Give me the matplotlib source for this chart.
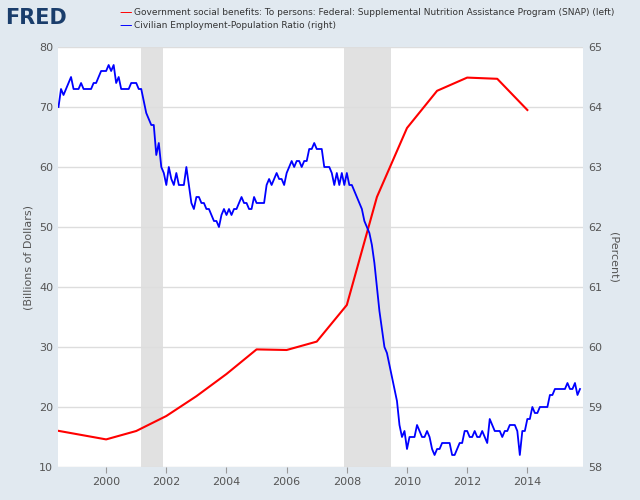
import matplotlib.pyplot as plt
import numpy as np

snap_years = list(range(1998, 2015))
snap_vals = [16.4, 15.5, 14.6, 16.0, 18.5, 21.8, 25.5, 29.6, 29.5, 30.9, 37.0, 55.0, 66.5, 72.7, 74.9, 74.7, 69.5]

emp_start = 1998 + 5/12  # June 1998
emp_vals = [64.0, 64.3, 64.2, 64.3, 64.4, 64.5, 64.3,
	64.3, 64.3, 64.4, 64.3, 64.3, 64.3, 64.3, 64.4, 64.4, 64.5, 64.6, 64.6,
	64.6, 64.7, 64.6, 64.7, 64.4, 64.5, 64.3, 64.3, 64.3, 64.3, 64.4, 64.4,
	64.4, 64.3, 64.3, 64.1, 63.9, 63.8, 63.7, 63.7, 63.2, 63.4, 63.0, 62.9,
	62.7, 63.0, 62.8, 62.7, 62.9, 62.7, 62.7, 62.7, 63.0, 62.7, 62.4, 62.3,
	62.5, 62.5, 62.4, 62.4, 62.3, 62.3, 62.2, 62.1, 62.1, 62.0, 62.2, 62.3,
	62.2, 62.3, 62.2, 62.3, 62.3, 62.4, 62.5, 62.4, 62.4, 62.3, 62.3, 62.5,
	62.4, 62.4, 62.4, 62.4, 62.7, 62.8, 62.7, 62.8, 62.9, 62.8, 62.8, 62.7,
	62.9, 63.0, 63.1, 63.0, 63.1, 63.1, 63.0, 63.1, 63.1, 63.3, 63.3, 63.4,
	63.3, 63.3, 63.3, 63.0, 63.0, 63.0, 62.9, 62.7, 62.9, 62.7, 62.9, 62.7,
	62.9, 62.7, 62.7, 62.6, 62.5, 62.4, 62.3, 62.1, 62.0, 61.9, 61.7, 61.4,
	61.0, 60.6, 60.3, 60.0, 59.9, 59.7, 59.5, 59.3, 59.1, 58.7, 58.5, 58.6,
	58.3, 58.5, 58.5, 58.5, 58.7, 58.6, 58.5, 58.5, 58.6, 58.5, 58.3, 58.2,
	58.3, 58.3, 58.4, 58.4, 58.4, 58.4, 58.2, 58.2, 58.3, 58.4, 58.4, 58.6,
	58.6, 58.5, 58.5, 58.6, 58.5, 58.5, 58.6, 58.5, 58.4, 58.8, 58.7, 58.6,
	58.6, 58.6, 58.5, 58.6, 58.6, 58.7, 58.7, 58.7, 58.6, 58.2, 58.6, 58.6,
	58.8, 58.8, 59.0, 58.9, 58.9, 59.0, 59.0, 59.0, 59.0, 59.2, 59.2, 59.3,
	59.3, 59.3, 59.3, 59.3, 59.4, 59.3, 59.3, 59.4, 59.2, 59.3]
emp_x = emp_start + np.arange(len(emp_vals)) / 12

recessions = [(2001.17, 2001.88), (2007.92, 2009.46)]

bg = '#e1e9f0'
fig = plt.figure(figsize=(6.4, 5), dpi=100, facecolor=bg)
ax = fig.add_axes([58/640, 33/500, 525/640, 420/500])
ax.set_facecolor('white')
for a, b in recessions:
	ax.axvspan(a, b, color='#e1e1e1', zorder=0, lw=0)
ax.plot(snap_years, snap_vals, color='red', lw=1.5, zorder=3)
ax.set_xlim(1998.4, 2015.85)
ax.set_ylim(10, 80)
ax.set_yticks(range(10, 81, 10))
ax.set_xticks(range(2000, 2015, 2))
ax.grid(axis='y', color='#dddddd', lw=1)
ax.set_axisbelow(True)
ax.set_ylabel('(Billions of Dollars)', fontsize=8, color='#555555')

ax2 = ax.twinx()
ax2.plot(emp_x, emp_vals, color='blue', lw=1.3, zorder=3)
ax2.set_ylim(58, 65)
ax2.set_yticks(range(58, 66))
ax2.set_ylabel('(Percent)', fontsize=8, color='#555555', rotation=270, labelpad=12)

for a in (ax, ax2):
	a.tick_params(labelsize=8, colors='#555555', length=0)
	for s in a.spines.values():
		s.set_visible(False)
ax.tick_params(axis='x', length=4, color='#999999')

fig.text(0.008, 0.963, 'FRED', fontsize=15, fontweight='bold', color='#1a3d6b', va='center')
fig.text(0.186, 0.975, '—', color='red', fontsize=9, va='center')
fig.text(0.21, 0.975, 'Government social benefits: To persons: Federal: Supplemental Nutrition Assistance Program (SNAP) (left)',
	fontsize=6.5, color='#333333', va='center')
fig.text(0.186, 0.948, '—', color='blue', fontsize=9, va='center')
fig.text(0.21, 0.948, 'Civilian Employment-Population Ratio (right)', fontsize=6.5, color='#333333', va='center')

fig.savefig('out.png', facecolor=bg)
